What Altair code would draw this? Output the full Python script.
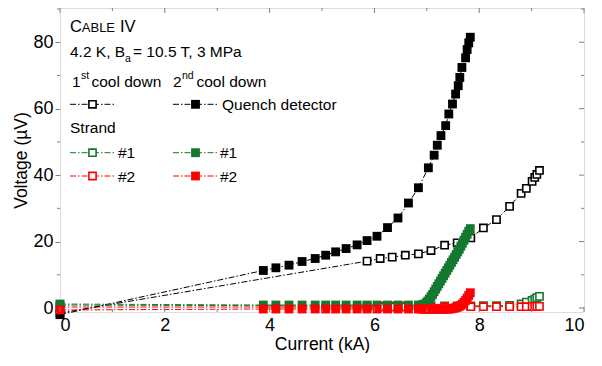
import altair as alt
import pandas as pd

SANS = "Liberation Sans, Arial, sans-serif"
GRAY = "#808080"
BLACK = "#000000"
GREEN = "#15782f"
RED = "#ff0000"

# ---------------- data ----------------
# 2nd cool down, quench detector (filled black)
x_qd2 = [0.0, 3.88, 4.12, 4.37, 4.62, 4.87, 5.07, 5.26, 5.46, 5.67, 5.86, 6.05, 6.25,
         6.45, 6.65, 6.84, 7.03, 7.14, 7.20, 7.27, 7.36, 7.42, 7.49, 7.55, 7.60,
         7.63, 7.67, 7.74, 7.77, 7.80, 7.83]
y_qd2 = [-2.0, 11.3, 12.1, 12.9, 14.0, 14.9, 15.9, 16.9, 17.9, 19.0, 20.3, 21.6, 24.2,
         27.1, 31.6, 36.2, 42.2, 46.0, 49.0, 51.9, 54.9, 58.4, 61.4, 64.4, 66.9,
         69.4, 72.4, 75.3, 77.8, 79.8, 81.5]

# 2nd cool down, strands (filled green / red)
x_st2 = [0.0, 3.88, 4.12, 4.37, 4.62, 4.87, 5.07, 5.26, 5.46, 5.67, 5.86, 6.05, 6.25,
         6.45, 6.65, 6.84, 6.90, 6.93, 6.96, 6.99, 7.02, 7.05, 7.08, 7.11, 7.14,
         7.17, 7.20, 7.23, 7.26, 7.29, 7.32, 7.35, 7.38, 7.41, 7.44, 7.47, 7.50,
         7.53, 7.56, 7.59, 7.62, 7.65, 7.68, 7.71, 7.74, 7.77, 7.80, 7.83]
y_s1_2 = [1.2, 0.9, 0.9, 0.9, 0.9, 0.9, 0.9, 0.9, 0.9, 0.9, 0.9, 0.9, 0.9,
          0.9, 0.9, 0.9, 0.9, 1.0, 1.2, 1.6, 2.1, 2.7, 3.4, 4.1, 4.9,
          5.7, 6.5, 7.3, 8.1, 8.9, 9.7, 10.5, 11.3, 12.1, 12.9, 13.7, 14.5,
          15.3, 16.1, 16.9, 17.7, 18.6, 19.5, 20.4, 21.3, 22.2, 23.1, 23.9]
y_s2_2 = [-0.6, -0.3, -0.3, -0.3, -0.3, -0.3, -0.3, -0.3, -0.3, -0.3, -0.3, -0.3, -0.3,
          -0.3, -0.3, -0.3, -0.3, -0.3, -0.3, -0.3, -0.3, -0.3, -0.3, -0.3, -0.3,
          -0.3, -0.3, -0.3, -0.3, -0.3, -0.3, -0.3, -0.3, -0.3, -0.3, -0.2, -0.1,
          0.0, 0.1, 0.3, 0.5, 0.8, 1.2, 1.7, 2.3, 3.0, 3.8, 4.6]

# 1st cool down (open symbols)
x_1 = [0.0, 5.86, 6.11, 6.34, 6.59, 6.84, 7.08, 7.34, 7.58, 7.84, 8.08, 8.33, 8.58,
       8.80, 8.90, 9.01, 9.06, 9.10, 9.15]
y_qd1 = [-1.5, 14.1, 14.9, 15.3, 15.9, 16.3, 17.3, 18.9, 19.6, 21.1, 24.1, 26.6, 30.6,
         34.5, 36.0, 38.1, 39.3, 40.2, 41.4]
y_s1_1 = [0.9, 0.6, 0.6, 0.6, 0.6, 0.6, 0.6, 0.6, 0.6, 0.6, 0.7, 0.7, 0.8,
          1.2, 1.8, 2.3, 2.7, 3.1, 3.5]
y_s2_1 = [0.3, 0.3, 0.3, 0.3, 0.3, 0.3, 0.3, 0.4, 0.4, 0.4, 0.4, 0.4, 0.4,
          0.4, 0.4, 0.5, 0.5, 0.5, 0.5]

x_ticks_major = [0, 2, 4, 6, 8, 10]
x_ticks_minor = [1, 3, 5, 7, 9]
y_ticks_major = [0, 20, 40, 60, 80]
y_ticks_minor = [10, 30, 50, 70, 90]

W, H = 524, 304
xs = alt.Scale(domain=[0, 10], nice=False, zero=False)
ys = alt.Scale(domain=[-1.2, 90.3], nice=False, zero=False)
DASH = [6, 2, 1.5, 2]

x_axis = alt.Axis(values=x_ticks_major, format="d", ticks=False, domain=False, grid=False,
                  labelFont=SANS, labelFontSize=18, labelColor="black", labelPadding=4,
                  title="Current (kA)", titleFont=SANS, titleFontSize=17.5,
                  titleFontWeight="normal", titleColor="black", titlePadding=1)
y_axis = alt.Axis(values=y_ticks_major, format="d", ticks=True, tickSize=5, tickColor=GRAY,
                  domain=False, grid=False, labelFont=SANS, labelFontSize=18,
                  labelColor="black", labelPadding=2,
                  title="Voltage (\u00b5V)", titleFont=SANS, titleFontSize=17.5,
                  titleFontWeight="normal", titleColor="black", titlePadding=2)

X = lambda f: alt.X(f, type="quantitative", scale=xs, axis=x_axis)
Y = lambda f: alt.Y(f, type="quantitative", scale=ys, axis=y_axis)


def series(xv, yv, color, filled):
    df = pd.DataFrame({"x": xv, "y": yv})
    enc = dict(x=X("x"), y=Y("y"))
    line = alt.Chart(df).mark_line(color=color, strokeWidth=1, strokeDash=DASH).encode(**enc)
    if filled:
        pts = alt.Chart(df).mark_square(filled=True, color=color, size=78, opacity=1).encode(**enc)
    else:
        pts = alt.Chart(df).mark_square(filled=True, fill="white", stroke=color, strokeWidth=1.6,
                                        size=52, opacity=1).encode(**enc)
    return [line, pts]


layers = []
layers += series(x_1, y_qd1, BLACK, False)
layers += series(x_1, y_s1_1, GREEN, False)
layers += series(x_1, y_s2_1, RED, False)
layers += series(x_qd2, y_qd2, BLACK, True)
layers += series(x_st2, y_s1_2, GREEN, True)
layers += series(x_st2, y_s2_2, RED, True)

# tick marks (inward on top, bottom and right; minor outward on left)
def xticks(vals, y0, y1):
    return alt.Chart(pd.DataFrame({"x": vals})).mark_rule(color=GRAY, strokeWidth=1).encode(
        x=X("x"), y=alt.value(y0), y2=alt.value(y1))

def yticks(vals, x0, x1):
    return alt.Chart(pd.DataFrame({"y": vals})).mark_rule(color=GRAY, strokeWidth=1).encode(
        y=Y("y"), x=alt.value(x0), x2=alt.value(x1))

layers += [
    xticks(x_ticks_major, 0, 5), xticks(x_ticks_minor, 0, 3),
    xticks(x_ticks_major, H, H - 5), xticks(x_ticks_minor, H, H - 3),
    yticks(y_ticks_major, W, W - 5), yticks(y_ticks_minor, W, W - 3),
    yticks(y_ticks_minor, 0, -3),
]

# ---------------- legend block (inside plot) ----------------
one = pd.DataFrame({"a": [0]})

def txt(s, x, y, size=15.5):
    return alt.Chart(one).mark_text(text=s, font=SANS, fontSize=size, align="left",
                                    baseline="alphabetic", color="black").encode(
        x=alt.value(x), y=alt.value(y))

def sample(x0, y, color, filled):
    ln = alt.Chart(one).mark_rule(color=color, strokeWidth=1, strokeDash=DASH).encode(
        x=alt.value(x0), x2=alt.value(x0 + 45), y=alt.value(y))
    if filled:
        sq = alt.Chart(one).mark_square(filled=True, color=color, size=78, opacity=1)
    else:
        sq = alt.Chart(one).mark_square(filled=True, fill="white", stroke=color,
                                        strokeWidth=1.6, size=52, opacity=1)
    sq = sq.encode(x=alt.value(x0 + 22.5), y=alt.value(y))
    return [ln, sq]

layers += [
    txt("C", 10, 23.7, 16.5), txt("ABLE", 21.8, 23.7, 13), txt("IV", 60, 23.7, 16.5),
    txt("4.2 K, B", 10, 48.7), txt("a", 65, 53.5, 10.5), txt("= 10.5 T,  3 MPa", 73, 48.7),
    txt("1", 12, 79.3), txt("st", 21, 71, 10.5), txt("cool down", 31.5, 79.3),
    txt("2", 113, 79.3), txt("nd", 122, 71, 10.5), txt("cool down", 136.5, 79.3),
    txt("Quench detector", 162, 101.5),
    txt("Strand", 10, 125.3),
    txt("#1", 58, 150), txt("#1", 160, 150),
    txt("#2", 58, 173.5), txt("#2", 160, 173.5),
]
layers += sample(10, 96.3, BLACK, False) + sample(113, 96.3, BLACK, True)
layers += sample(10, 144.7, GREEN, False) + sample(113, 144.7, GREEN, True)
layers += sample(10, 168, RED, False) + sample(113, 168, RED, True)

chart = alt.layer(*layers).properties(
    width=W, height=H,
    autosize=alt.AutoSizeParams(type="none"),
    padding={"left": 52, "top": 0, "right": 10, "bottom": 41},
).configure_view(stroke=GRAY, strokeWidth=1.2).configure(background="white")

chart.save("out.html", embed_options={"renderer": "svg", "actions": False})
